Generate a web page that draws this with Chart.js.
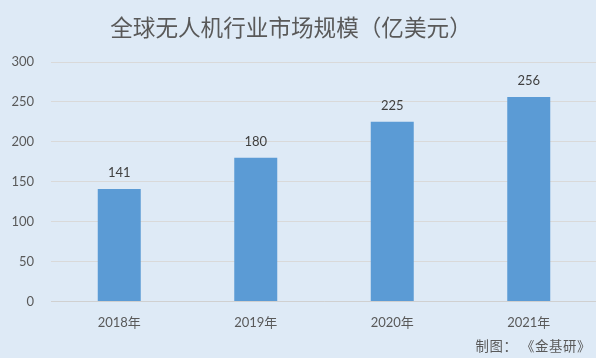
<!DOCTYPE html>
<html>
<head>
<meta charset="utf-8">
<script src="https://cdn.jsdelivr.net/npm/chart.js@4.4.1/dist/chart.umd.min.js"></script>
<style>
  html, body { margin: 0; padding: 0; background: #DEEAF6; overflow: hidden; }
  #wrap { position: relative; width: 596px; height: 358px; overflow: hidden; background: #DEEAF6; }
  #box { position: absolute; left: 0; top: 0; width: 598px; height: 358px; }
  #title { position: absolute; left: 0; width: 582px; top: 12px; text-align: center;
    font-family: "Noto Sans CJK SC", sans-serif; font-size: 22.6px; color: #595959; line-height: 30px; white-space: nowrap; }
  #foot { position: absolute; right: 5px; top: 336px; font-family: "Noto Sans CJK SC", sans-serif;
    font-size: 13.4px; color: #595959; line-height: 18px; white-space: nowrap; letter-spacing: 0.6px; }
</style>
</head>
<body>
<div id="wrap">
  <div id="box"><canvas id="c"></canvas></div>
  <div id="title">全球无人机行业市场规模（亿美元）</div>
  <div id="foot">制图： 《金基研》</div>
</div>
<script>
const categories = ["2018年", "2019年", "2020年", "2021年"];
const values = [141, 180, 225, 256];
const yTicks = [0, 50, 100, 150, 200, 250, 300];

const FONT = "Lato, 'Noto Sans CJK SC', sans-serif";

const valueLabels = {
  id: 'valueLabels',
  afterDatasetsDraw(chart) {
    const ctx = chart.ctx;
    const meta = chart.getDatasetMeta(0);
    ctx.save();
    ctx.font = "13px " + FONT;
    ctx.fillStyle = "#404040";
    ctx.textAlign = "center";
    ctx.textBaseline = "middle";
    meta.data.forEach((bar, i) => {
      ctx.fillText(String(values[i]), bar.x, bar.y - 16);
    });
    ctx.restore();
  }
};

new Chart(document.getElementById('c'), {
  type: 'bar',
  data: {
    labels: categories,
    datasets: [{
      data: values,
      backgroundColor: '#5B9BD5',
      borderWidth: 0,
      barPercentage: 0.315,
      categoryPercentage: 1.0
    }]
  },
  options: {
    responsive: true,
    maintainAspectRatio: false,
    animation: false,
    events: [],
    layout: { padding: { left: 0, right: 1, top: 62, bottom: 21 } },
    plugins: { legend: { display: false }, tooltip: { enabled: false }, title: { display: false } },
    scales: {
      x: {
        grid: { display: false },
        border: { display: true, color: '#D0D0D0', width: 1 },
        ticks: { color: '#595959', font: { family: FONT, size: 13 }, padding: 6, maxRotation: 0 }
      },
      y: {
        min: 0, max: 300,
        afterBuildTicks(scale) { scale.ticks = yTicks.map(v => ({ value: v })); },
        grid: { color: '#D9D9D9', drawTicks: false, lineWidth: 1 },
        border: { display: false },
        ticks: { color: '#595959', font: { family: FONT, size: 13 }, padding: 17 },
        afterFit(scale) { scale.width = 51; }
      }
    }
  },
  plugins: [valueLabels]
});
</script>
</body>
</html>
